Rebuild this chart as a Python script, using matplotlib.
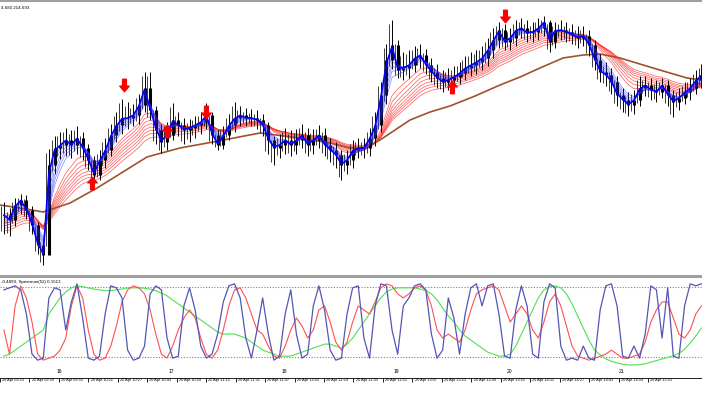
import numpy as np
import matplotlib
matplotlib.use("Agg")
import matplotlib.pyplot as plt
from matplotlib.path import Path

# 3 minute bars, price in points above the panel bottom
bar_step = 3
first_bar = 9  # minutes after 09:23
cl = [59,54,69,74,64,49,29,19,109,126,
      129,134,129,136,126,114,99,114,124,139,
      149,156,156,159,169,186,164,144,132,139,
      154,149,144,146,149,152,159,139,129,139,
      149,156,159,156,156,154,149,134,126,129,
      134,129,134,139,129,134,139,129,124,119,
      109,114,124,126,126,136,149,179,214,229,
      204,206,209,216,219,209,202,196,192,194,
      197,201,206,209,212,216,224,234,244,232,
      236,244,246,241,242,246,252,232,244,244,
      242,239,236,238,229,214,202,199,192,179,
      174,169,174,186,189,184,182,189,179,172,
      176,182,186,194,199]
hi = [72,66,76,80,79,68,52,36,125,138,
      142,146,144,148,142,130,118,124,136,150,
      162,175,172,170,180,202,202,168,150,152,
      171,162,156,155,158,162,171,162,144,148,
      160,172,168,166,165,164,160,152,138,140,
      146,144,145,150,146,145,149,146,136,132,
      124,124,134,136,136,146,162,192,230,254,
      234,222,224,228,230,225,216,210,204,206,
      208,212,218,222,224,228,236,246,252,250,
      246,254,256,254,252,256,258,254,252,254,
      252,250,248,248,244,234,220,212,206,198,
      186,182,184,198,198,196,194,196,194,184,
      186,192,196,204,210]
lo = [40,38,48,60,55,40,20,9,25,100,
      115,118,116,120,114,104,90,94,106,118,
      132,140,145,148,150,162,154,130,121,124,
      134,138,130,132,136,140,145,130,124,125,
      134,142,148,148,148,145,138,120,109,116,
      120,118,120,126,118,120,126,118,112,106,
      94,100,106,116,116,118,128,142,170,205,
      196,194,196,202,206,200,192,186,182,184,
      186,190,194,198,200,204,208,216,226,224,
      224,228,236,232,232,234,238,222,226,234,
      232,230,226,228,218,204,192,188,180,168,
      162,158,160,168,178,174,172,176,168,157,
      164,170,174,180,186]

# ribbon periods (in bars) and their start values
fast_periods = [1.2, 1.6, 2.0, 2.5, 3.0, 3.5, 4.2]
fast_seed = [58, 55, 52, 49, 46, 43, 40]
slow_periods = [7, 8.5, 10, 11.5, 13, 14.5, 16, 18]
slow_seed = [62, 59, 56, 53, 50, 47, 44, 41]

# long average (brown)
brown_t = [6.9, 17.6, 29.9, 44.3, 58.7, 69.9, 85.3, 102.9, 120.5, 145.6,
           166.9, 182.9, 193.6, 201.6, 209.6, 217.6, 225.6, 236.3, 246.9,
           260.3, 273.6, 284.3, 294.9, 307.2, 317.9, 326.9, 337.6, 355.2,
           373.3, 381.3]
brown_v = [69, 66, 62, 71, 86, 99, 117, 126, 132, 141,
           136, 131, 126, 126, 134, 144, 154, 162, 168,
           178, 189, 197, 206, 216, 219, 220, 216, 206,
           196, 194]

# signal arrows
arrow_t = [73, 117, 276, 56, 96, 248]
arrow_v = [189, 162, 258, 91, 143, 187]
arrow_dn = [True, True, True, False, False, False]

# lower panel (Spearman style oscillators, percent)
osc_blue = [80,85,90,80,20,-80,-95,-90,60,85,
            80,-20,50,95,10,-90,-95,-85,20,90,
            85,60,-70,-95,-90,-60,70,90,80,-40,
            -90,-85,40,85,30,-60,-90,-80,-30,50,
            90,95,60,-40,-90,-20,60,-30,-95,-85,
            20,80,-30,-90,-80,40,90,30,-70,-95,
            -90,20,85,90,-40,-90,40,95,90,-20,
            -80,40,60,90,95,80,-30,-90,-70,60,
            10,-80,20,85,95,40,90,95,20,-85,
            -90,30,90,40,-80,-90,50,95,85,-60,
            -95,-90,-95,-60,-90,-95,30,90,95,40,
            -85,-90,-60,-90,-30,90,80,-40,85,-85,
            -90,40,95,90,95]
osc_red = [-20,-80,40,90,60,0,-80,-95,-90,-85,
           -70,-40,40,90,60,-20,-80,-95,-90,-60,
           -10,50,80,90,85,70,30,-30,-80,-90,
           -60,-20,10,30,10,-40,-80,-90,-70,-20,
           40,80,85,60,20,-20,-30,-60,-85,-90,
           -60,-20,10,-10,-40,-20,30,40,0,-50,
           -70,-50,0,40,30,20,50,85,95,90,
           70,60,70,85,90,80,40,-20,-40,-30,
           -40,-50,-20,30,70,80,85,90,80,40,
           0,20,40,20,-20,-40,0,50,70,40,
           -10,-60,-85,-90,-95,-90,-85,-80,-70,-80,
           -90,-90,-85,-80,-50,0,30,50,50,10,
           -30,-40,-20,20,40]
osc_green = [-85,-80,-70,-60,-50,-40,-30,-20,20,40,
             60,75,85,90,88,85,82,80,78,78,
             80,82,85,85,85,84,82,78,72,65,
             55,45,35,25,15,5,-5,-15,-25,-30,
             -30,-30,-35,-40,-50,-60,-70,-75,-80,-85,
             -85,-85,-80,-75,-70,-65,-60,-55,-55,-60,
             -65,-55,-40,-20,0,20,40,60,75,82,
             85,85,85,85,82,78,70,55,35,15,
             0,-20,-35,-45,-55,-65,-75,-80,-85,-85,
             -80,-60,-30,0,30,60,80,88,90,85,
             70,45,15,-15,-45,-70,-82,-92,-98,-102,
             -105,-107,-107,-106,-104,-100,-96,-92,-88,-84,
             -78,-68,-52,-35,-15]
osc_level = 87

tick_times = list(range(0, 353, 16))
hour_times = [37, 97, 157, 217, 277, 337]
hour_labels = ["16", "17", "18", "19", "20", "21"]
header_txt = "4.683 214.693"
osc_txt = "-0.4899, Spearman(52) 0.1513"


def ema(values, period, seed):
    a = 2.0 / (period + 1.0)
    out = []
    prev = seed
    for v in values:
        prev = prev + a * (v - prev)
        out.append(prev)
    return np.array(out)


n = len(cl)
t = first_bar + bar_step * np.arange(n)
opn = [cl[0]] + cl[:-1]

W, H = 702, 395
fig = plt.figure(figsize=(W / 100, H / 100), dpi=100)
fig.patch.set_facecolor("white")
xlim = (6.93, 381.3)

ax1 = fig.add_axes([0, (H - 274) / H, 1, 272 / H])
ax2 = fig.add_axes([0, (H - 367) / H, 1, 90 / H])
ax3 = fig.add_axes([0, (H - 378) / H, 1, 0.0001])

for ax in (ax1, ax2, ax3):
    ax.set_xlim(*xlim)
    for s in ax.spines.values():
        s.set_visible(False)
    ax.set_yticks([])
    ax.set_xticks([])
    ax.patch.set_alpha(0)

# ---- main panel
ax1.set_ylim(0, 272)
for p, s in zip(slow_periods, slow_seed):
    ax1.plot(t, ema(cl, p, s), color="#ff3030", lw=0.55, alpha=0.75, zorder=2)
ax1.plot(brown_t, brown_v, color="#a0522d", lw=1.2, zorder=3)
ax1.vlines(t, lo, hi, color="black", lw=0.7, zorder=4)
ax1.vlines(t, np.minimum(opn, cl), np.maximum(opn, cl), color="black",
           lw=2.2, zorder=4)
ax1.vlines(t - 1.5, np.array(lo) + 3, np.array(hi) - 4, color="#202020",
           lw=0.6, zorder=4)
for k, (p, s) in enumerate(zip(fast_periods, fast_seed)):
    if k == 0:
        ax1.plot(t, ema(cl, p, s), color="#0000ff", lw=1.2, zorder=6)
    else:
        ax1.plot(t, ema(cl, p, s), color="#3030ff", lw=0.5, alpha=0.6, zorder=5)

dn = Path([(-0.3, 1), (0.3, 1), (0.3, -0.1), (0.75, -0.1), (0, -1),
           (-0.75, -0.1), (-0.3, -0.1), (-0.3, 1)], closed=True)
up = Path([(x, -y) for x, y in dn.vertices], closed=True)
for at, av, d in zip(arrow_t, arrow_v, arrow_dn):
    ax1.plot([at], [av], marker=dn if d else up, ms=9, color="#ff0000",
             mec="#ff0000", ls="none", zorder=8)

ax1.text(0.002, 0.985, header_txt, transform=ax1.transAxes, fontsize=3.2,
         family="Liberation Sans", va="top", ha="left")

# ---- oscillator panel
ax2.set_ylim(-112, 112)
ax2.axhline(osc_level, color="#808080", lw=0.8, ls=(0, (1, 1.5)))
ax2.axhline(-osc_level, color="#808080", lw=0.8, ls=(0, (1, 1.5)))
ax2.plot(t, osc_green, color="#50e050", lw=0.8)
ax2.plot(t, osc_red, color="#ff5050", lw=0.8)
ax2.plot(t, osc_blue, color="#5555b5", lw=0.9)
ax2.text(0.002, 0.97, osc_txt, transform=ax2.transAxes, fontsize=3.2,
         family="Liberation Sans", va="top", ha="left")
for ht, hl in zip(hour_times, hour_labels):
    ax2.text(ht, -122, hl, fontsize=3.6, family="Liberation Sans",
             ha="left", va="center", clip_on=False)

# ---- time scale
ax3.spines["bottom"].set_visible(True)
ax3.spines["bottom"].set_color("black")
ax3.spines["bottom"].set_linewidth(0.6)
ax3.set_xticks(tick_times)
ax3.set_xticklabels([])
ax3.tick_params(axis="x", direction="out", length=3, width=0.6)
for tt in tick_times:
    hh, mm = divmod(9 * 60 + 23 + tt, 60)
    ax3.text(tt + 1.2, -0.5, "20 Apr %02d:%02d" % (hh, mm), fontsize=2.8,
             family="Liberation Sans", ha="left", va="top",
             transform=ax3.get_xaxis_transform(), clip_on=False)

# frame lines
fig.add_artist(plt.Line2D([0, 1], [1 - 1 / H, 1 - 1 / H], color="#a0a0a0", lw=1.5))
fig.add_artist(plt.Line2D([0, 1], [1 - 275.5 / H, 1 - 275.5 / H], color="#a0a0a0", lw=2.2))

fig.savefig("out.png", dpi=100)
